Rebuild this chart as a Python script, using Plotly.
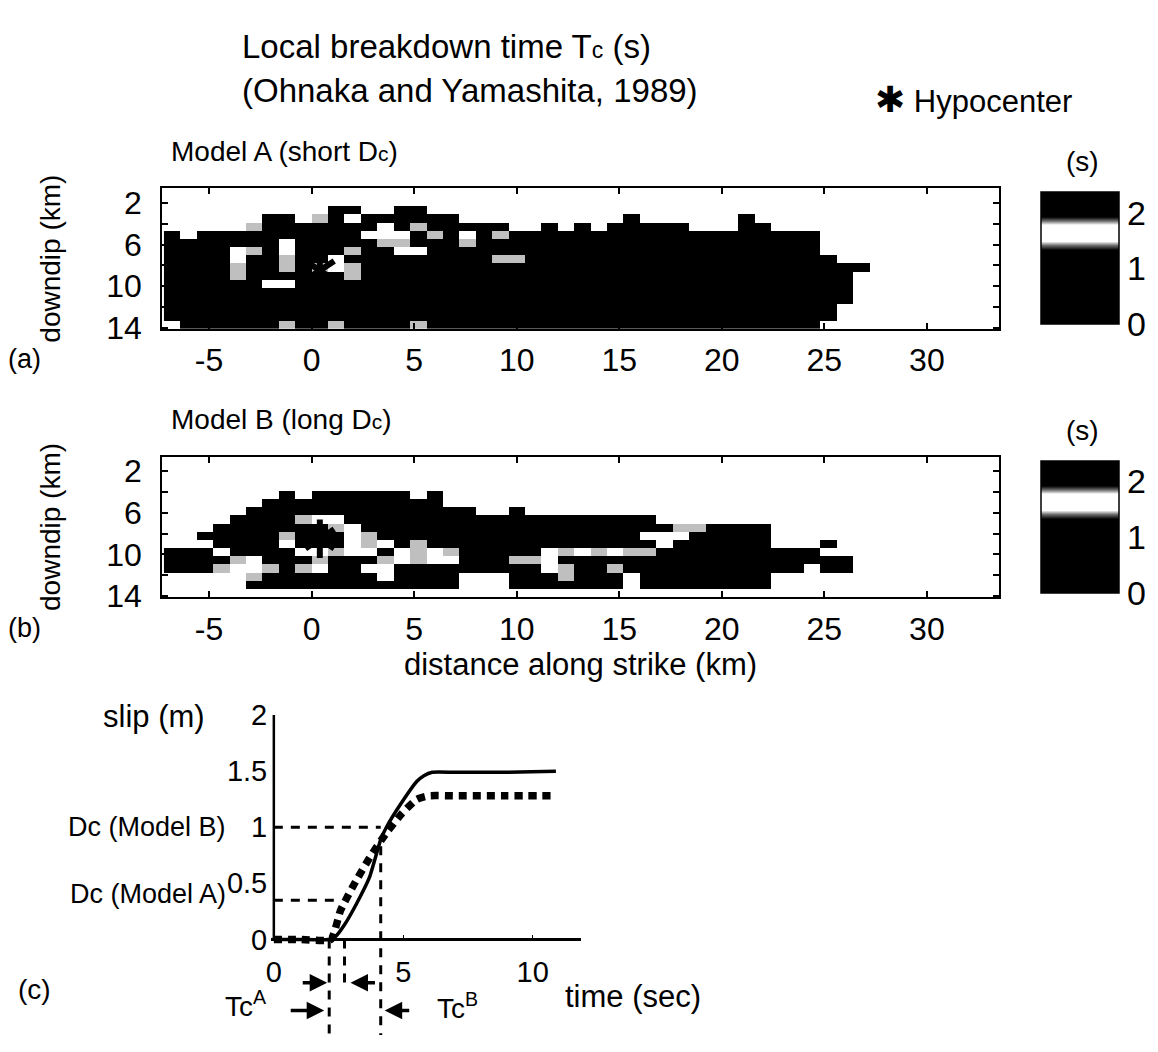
import numpy as np
import plotly.graph_objects as go

W, H = 1158, 1052
FONT = "Liberation Sans, Arial, Helvetica, sans-serif"

# ---------------- data ----------------
strike_ticks = [-5, 0, 5, 10, 15, 20, 25, 30]
strike_ticktext = ["-5", "0", "5", "10", "15", "20", "25", "30"]
dip_ticks = [2, 6, 10, 14]
dip_minor = [4, 8, 12]
cbar_ticks = [0, 1, 2]

# sub-fault grid (km)
cell_x0, cell_dx, n_cols = -7.2, 0.8, 51
cell_y0, cell_dy, n_rows = 0.74, 0.786, 17

# local breakdown time Tc (s): '#' dark, 'g' grey, 'w' white, '.' no rupture
tc_code = {"#": 0.9, "g": 1.45, "w": 1.63}

model_a_rows = [
    "",
    "",
    "..........##..##",
    "......##.g#w######..........#......#",
    ".....g#######w#g#####..#.#.#####...##",
    "#.##########www#g#w#g###################",
    "#######w#####gg###g#####################",
    "####wg#w###g##ww########################",
    "####w##g##w#########gg###################",
    "####g##g#gwg###############################",
    "####g######g##############################",
    "######ww##################################",
    "##########################################",
    "##########################################",
    "#########################################",
    "#########################################",
    "w######g##g####g########################",
]

model_b_rows = [
    "",
    "",
    "",
    "",
    ".......#.######.#",
    "......###########",
    ".....##############..#",
    "....####gww###################",
    "...#######gw###################gg####",
    "..#####g###wg################www#####",
    ".ww####w###wgw#g##############w######...#",
    "###w####wwgww#wgwg#####wgwgwgg##########w",
    "####gw###g###gwgww###ggw##################",
    "###gwwg#gw##ww#########wg##g###########.##",
    ".....g#######w####...###g###.########",
    ".....#############...#######.########",
    "",
]

hypo_strike = [0.4, 0.4]
hypo_dip = [8.5, 8.5]

# slip functions (panel c)
time_solid = [0, 1.0, 2.1, 2.4, 2.73, 3.2, 3.69, 4.13, 4.35, 4.94, 5.53, 5.8, 6.12, 7.0, 9.0, 10.9]
slip_solid = [0, 0, 0, 0.03, 0.13, 0.32, 0.55, 0.89, 1.0, 1.22, 1.41, 1.46, 1.49, 1.49, 1.49, 1.50]
time_dotted = [0, 1.0, 2.2, 2.58, 3.17, 3.76, 4.35, 4.94, 5.53, 5.97, 7.0, 9.0, 10.8]
slip_dotted = [0, 0, 0, 0.26, 0.52, 0.75, 0.95, 1.12, 1.25, 1.28, 1.28, 1.28, 1.28]
dc_model_a = 0.35
dc_model_b = 1.0
dc_a_end = 2.55
tc_start = 2.14
tc_a_end = 2.73
tc_b_end = 4.13
tc_b_top = 0.83
slip_ticks = [0, 0.5, 1, 1.5, 2]
slip_ticktext = ["0", "0.5", "1", "1.5", "2"]
time_ticks = [0, 5, 10]

# ---------------- helpers ----------------
def px_x(p):
    return p / W


def px_y(p):
    return 1 - p / H


def decode(rows):
    z = []
    for j in range(n_rows):
        r = rows[j][:n_cols].ljust(n_cols, ".")
        z.append([tc_code[c] if c in tc_code else None for c in r])
    return z


xc = [cell_x0 + cell_dx * (i + 0.5) for i in range(n_cols)]
yc = [cell_y0 + cell_dy * (j + 0.5) for j in range(n_rows)]

cscale = [
    [0.0, "#000000"], [0.56, "#000000"], [0.595, "#6e6e6e"], [0.625, "#ffffff"],
    [0.75, "#ffffff"], [0.78, "#6e6e6e"], [0.81, "#000000"], [1.0, "#000000"],
]
ZMIN, ZMAX = 0, 2.37

fig = go.Figure()


def add_panel(rows, xa, ya, cb_top):
    fig.add_trace(go.Heatmap(
        x=xc, y=yc, z=decode(rows), xaxis=xa, yaxis=ya,
        colorscale=cscale, zmin=ZMIN, zmax=ZMAX, zsmooth=False, hoverongaps=False,
        colorbar=dict(
            x=px_x(1040), xanchor="left", xpad=0, y=px_y(cb_top), yanchor="top", ypad=0,
            len=136 / H, lenmode="fraction", thickness=78, thicknessmode="pixels",
            outlinewidth=1.5, outlinecolor="black", tickvals=cbar_ticks, ticks="",
            tickfont=dict(size=34, family=FONT, color="black"), ticklabelposition="outside",
        ),
    ))
    fig.add_trace(go.Scatter(
        x=hypo_strike, y=hypo_dip, xaxis=xa, yaxis=ya, mode="markers", hoverinfo="skip",
        marker=dict(symbol=["y-up-open", "y-down-open"], size=24, color="black",
                    line=dict(color="black", width=6)),
    ))


add_panel(model_a_rows, "x", "y", 182)
add_panel(model_b_rows, "x2", "y2", 459)

# panel c
fig.add_trace(go.Scatter(x=time_solid, y=slip_solid, xaxis="x3", yaxis="y3", mode="lines",
                         line=dict(color="black", width=3.5, shape="spline", smoothing=0.5)))
fig.add_trace(go.Scatter(x=time_dotted, y=slip_dotted, xaxis="x3", yaxis="y3", mode="lines",
                         line=dict(color="black", width=7.5, dash="8px,6px", shape="spline", smoothing=0.5)))
dash_style = dict(color="black", width=3, dash="9px,8px")
fig.add_trace(go.Scatter(x=[0, tc_b_end], y=[dc_model_b, dc_model_b], xaxis="x3", yaxis="y3",
                         mode="lines", line=dash_style))
fig.add_trace(go.Scatter(x=[0, dc_a_end], y=[dc_model_a, dc_model_a], xaxis="x3", yaxis="y3",
                         mode="lines", line=dash_style))
fig.add_trace(go.Scatter(x=[tc_start, tc_start], y=[0, -0.9], xaxis="x3", yaxis="y3",
                         mode="lines", line=dash_style))
fig.add_trace(go.Scatter(x=[tc_a_end, tc_a_end], y=[0, -0.45], xaxis="x3", yaxis="y3",
                         mode="lines", line=dash_style))
fig.add_trace(go.Scatter(x=[tc_b_end, tc_b_end], y=[tc_b_top, -0.9], xaxis="x3", yaxis="y3",
                         mode="lines", line=dash_style))
fig.add_trace(go.Scatter(x=[0, 0], y=[0, 2], xaxis="x3", yaxis="y3", mode="lines",
                         line=dict(color="black", width=2.5)))

heat_axis = dict(showline=True, linecolor="black", linewidth=2, mirror="allticks",
                 ticks="inside", ticklen=6, tickwidth=1.5, tickcolor="black",
                 showgrid=False, zeroline=False,
                 tickfont=dict(size=32, family=FONT, color="black"))
dip_axis = dict(heat_axis, tickvals=dip_ticks, ticklabelstandoff=12,
                minor=dict(tickvals=dip_minor, ticks="inside", ticklen=6, tickwidth=1.5,
                           tickcolor="black", showgrid=False))

fig.update_layout(
    width=W, height=H, margin=dict(l=0, r=0, t=0, b=0),
    paper_bgcolor="white", plot_bgcolor="white", showlegend=False,
    font=dict(family=FONT, color="black"),
    xaxis=dict(heat_axis, domain=[px_x(158), px_x(998)], range=[-7.28, 33.5], anchor="y",
               tickvals=strike_ticks, ticktext=strike_ticktext, ticklabelstandoff=2),
    yaxis=dict(dip_axis, domain=[px_y(323), px_y(178)], range=[14.12, 0.6], anchor="x",
               title=dict(text="downdip (km)", font=dict(size=28, family=FONT), standoff=38)),
    xaxis2=dict(heat_axis, domain=[px_x(158), px_x(998)], range=[-7.28, 33.5], anchor="y2",
                tickvals=strike_ticks, ticktext=strike_ticktext, ticklabelstandoff=2,
                title=dict(text="distance along strike (km)", font=dict(size=31, family=FONT), standoff=8)),
    yaxis2=dict(dip_axis, domain=[px_y(600), px_y(455)], range=[14.12, 0.6], anchor="x2",
                title=dict(text="downdip (km)", font=dict(size=28, family=FONT), standoff=38)),
    xaxis3=dict(domain=[px_x(267.4), px_x(578)], range=[-0.1, 11.85], anchor="free",
                position=px_y(953.3), showline=True, linecolor="black", linewidth=2.5,
                ticks="inside", ticklen=4, tickcolor="black", showgrid=False, zeroline=False,
                tickvals=time_ticks, tickfont=dict(size=29, family=FONT, color="black"),
                ticklabelstandoff=6),
    yaxis3=dict(domain=[0, px_y(721.7)], range=[-0.852, 2.0], anchor="x3",
                showline=False, ticks="", showgrid=False, zeroline=False,
                tickvals=slip_ticks, ticktext=slip_ticktext, ticklabelstandoff=3,
                tickfont=dict(size=29, family=FONT, color="black")),
)

small_c = "<span style='font-size:23px'>c</span>"
small_c2 = "<span style='font-size:21px'>c</span>"


def note(text, x, y, size, xanchor="left", **kw):
    fig.add_annotation(text=text, x=px_x(x), y=px_y(y), xref="paper", yref="paper",
                       xanchor=xanchor, yanchor="middle", showarrow=False,
                       font=dict(size=size, family=FONT, color="black"), **kw)


note("Local breakdown time T" + small_c + " (s)", 236, 32, 33)
note("(Ohnaka and Yamashita, 1989)", 236, 77, 33)
note("<span style='font-family:DejaVu Sans;font-size:36px'>\u2731</span> Hypocenter", 872, 86, 31)
note("Model A (short D" + small_c2 + ")", 165, 140, 28)
note("Model B (long D" + small_c2 + ")", 165, 417, 28)
note("(s)", 1082, 150, 28, xanchor="center")
note("(s)", 1082, 428, 28, xanchor="center")
note("(a)", 20, 354, 27, xanchor="center")
note("(b)", 20, 632, 27, xanchor="center")
note("(c)", 30, 1005, 28, xanchor="center")
note("slip (m)", 150, 723, 31, xanchor="center")
note("Dc (Model B)", 224, 837, 27, xanchor="right")
note("Dc (Model A)", 224, 906, 27, xanchor="right")
note("Tc<sup>A</sup>", 242, 1020, 28, xanchor="center")
note("Tc<sup>B</sup>", 454, 1022, 28, xanchor="center")
note("time (sec)", 560, 1012, 31)


def arrow(head, level, ax, standoff):
    fig.add_annotation(x=head, y=level, xref="x3", yref="y3", ax=ax, ay=0, text="",
                       showarrow=True, arrowhead=2, arrowsize=1, arrowwidth=3.5,
                       arrowcolor="black", standoff=standoff)


arrow(tc_start, -0.386, -28, 2)
arrow(tc_a_end, -0.386, 32, 6)
arrow(tc_start, -0.634, -40, 5)
arrow(tc_b_end, -0.634, 30, 4)

fig.write_html("out.html")
